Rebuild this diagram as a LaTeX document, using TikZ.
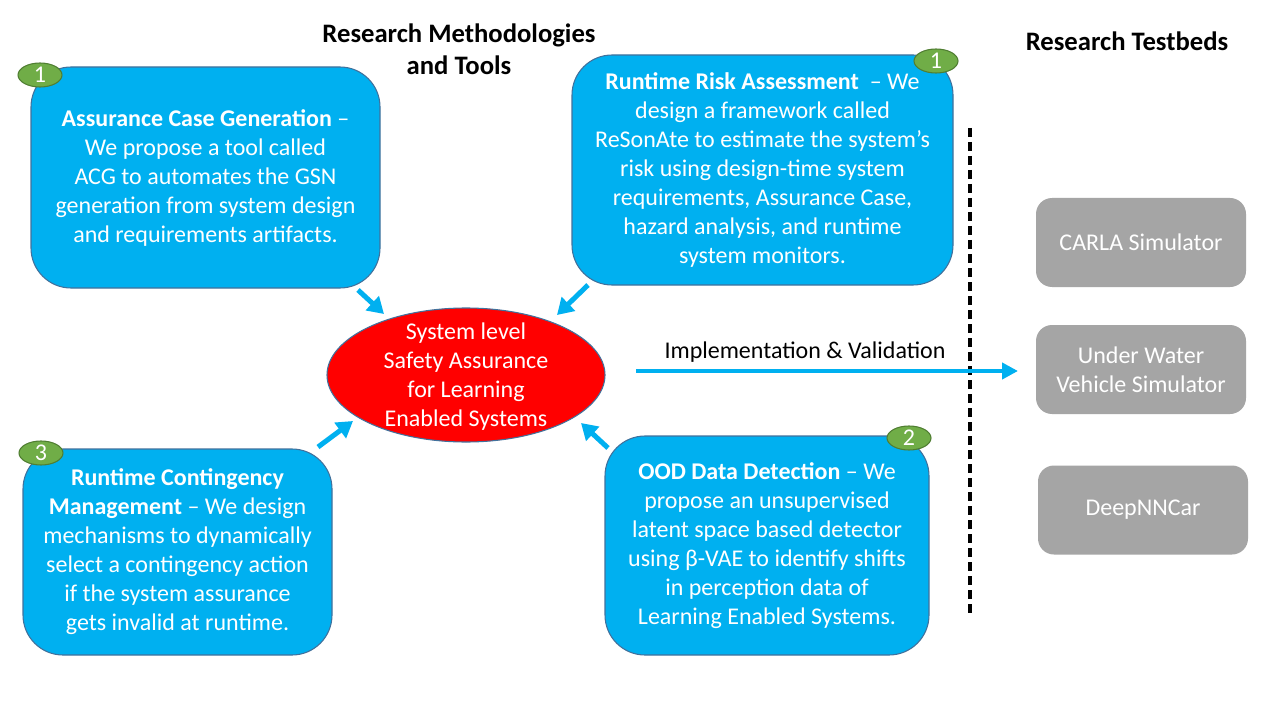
\documentclass[tikz,border=0pt]{standalone}
\usepackage{fontspec}
\setmainfont{Carlito}
\usetikzlibrary{arrows.meta,shapes.geometric}
\definecolor{cblue}{HTML}{00B0F0}
\definecolor{cedge}{HTML}{41719C}
\definecolor{cgreen}{HTML}{70AD47}
\definecolor{cgreenedge}{HTML}{507E32}
\definecolor{cred}{HTML}{FF0000}
\definecolor{cgray}{HTML}{A5A5A5}
\tikzset{
  txt/.style={font=\fontsize{18}{21.75}\selectfont, align=center, inner sep=0pt},
  bluebox/.style={draw=cedge, line width=0.8pt, fill=cblue, rounded corners=30pt, text=white, txt},
  badge/.style={ellipse, draw=cgreenedge, line width=0.8pt, fill=cgreen, text=white,
    minimum width=33pt, minimum height=18pt, inner sep=0pt, font=\fontsize{18}{18}\selectfont},
  graybox/.style={fill=cgray, rounded corners=12pt, text=white, txt,
    minimum width=157.5pt, minimum height=66.75pt},
  heading/.style={font=\bfseries\fontsize{20}{24}\selectfont, align=center, inner sep=0pt},
  cyanarrow/.style={draw=cblue, line width=3.75pt, -{Triangle[length=12pt,width=14pt]}},
}
\begin{document}
\begin{tikzpicture}[x=0.75pt,y=-0.75pt]
\useasboundingbox (0,0) rectangle (1280,720);
\fill[white] (0,0) rectangle (1280,720);

% headings
\node[heading] (h1) at (459,49) {Research Methodologies\\and Tools};
\node[heading] (h2) at (1127,41) {Research Testbeds};

% blue boxes
\node[bluebox, minimum width=349*0.75pt, minimum height=221*0.75pt] (acg) at (205.5,177.5)
  {\textbf{Assurance Case Generation} --\\We propose a tool called\\ACG to automates the GSN\\generation from system design\\and requirements artifacts.};
\node[bluebox, minimum width=381*0.75pt, minimum height=230*0.75pt] (risk) at (762.5,170)
  {\textbf{Runtime Risk Assessment}~ -- We\\design a framework called\\ReSonAte to estimate the system’s\\risk using design-time system\\requirements, Assurance Case,\\hazard analysis, and runtime\\system monitors.};
\node[bluebox, minimum width=309*0.75pt, minimum height=206*0.75pt] (cont) at (177.5,552)
  {\textbf{Runtime Contingency}\\\textbf{Management} -- We design\\mechanisms to dynamically\\select a contingency action\\if the system assurance\\gets invalid at runtime.};
\node[bluebox, minimum width=324*0.75pt, minimum height=219*0.75pt] (ood) at (767,545.5)
  {\textbf{OOD Data Detection} -- We\\propose an unsupervised\\latent space based detector\\using β-VAE to identify shifts\\in perception data of\\Learning Enabled Systems.};

% badges
\node[badge] (b1) at (40,75) {1};
\node[badge] (b2) at (936,61) {1};
\node[badge] (b3) at (41,453) {3};
\node[badge] (b4) at (909,438) {2};

% core ellipse
\node[ellipse, draw=cedge, line width=0.8pt, fill=cred, minimum width=278*0.75pt, minimum height=134*0.75pt] (core) at (466,375) {};
\node[txt, text=white] (coretext) at (466,377) {System level\\Safety Assurance\\for Learning\\Enabled Systems};

% arrows into core
\coordinate (a1s) at (358,290); \coordinate (a1e) at (384,314);
\coordinate (a2s) at (588,285); \coordinate (a2e) at (557,315);
\coordinate (a3s) at (318,447); \coordinate (a3e) at (353,421);
\coordinate (a4s) at (608,448); \coordinate (a4e) at (581,423);
\draw[cyanarrow] (a1s) -- (a1e);
\draw[cyanarrow] (a2s) -- (a2e);
\draw[cyanarrow] (a3s) -- (a3e);
\draw[cyanarrow] (a4s) -- (a4e);

% gray boxes
\node[graybox] (carla) at (1141,242.5) {CARLA Simulator};
\node[graybox] (uwv) at (1141,369.5) {Under Water\\Vehicle Simulator};
\node[graybox] (dnn) at (1143,510) {DeepNNCar};

% dashed divider
\coordinate (dtop) at (970,128);
\coordinate (dbot) at (970,618);
\draw[line width=2.4pt, dash pattern=on 7pt off 3.5pt] (dtop) -- (dbot);

% implementation arrow
\coordinate (impls) at (636,371);
\coordinate (imple) at (1018,371);
\draw[draw=cblue, line width=3pt, -{Triangle[length=12pt,width=12pt]}] (impls) -- (imple);
\node[txt] (impl) at (805,352) {Implementation \& Validation};
\end{tikzpicture}
\end{document}
